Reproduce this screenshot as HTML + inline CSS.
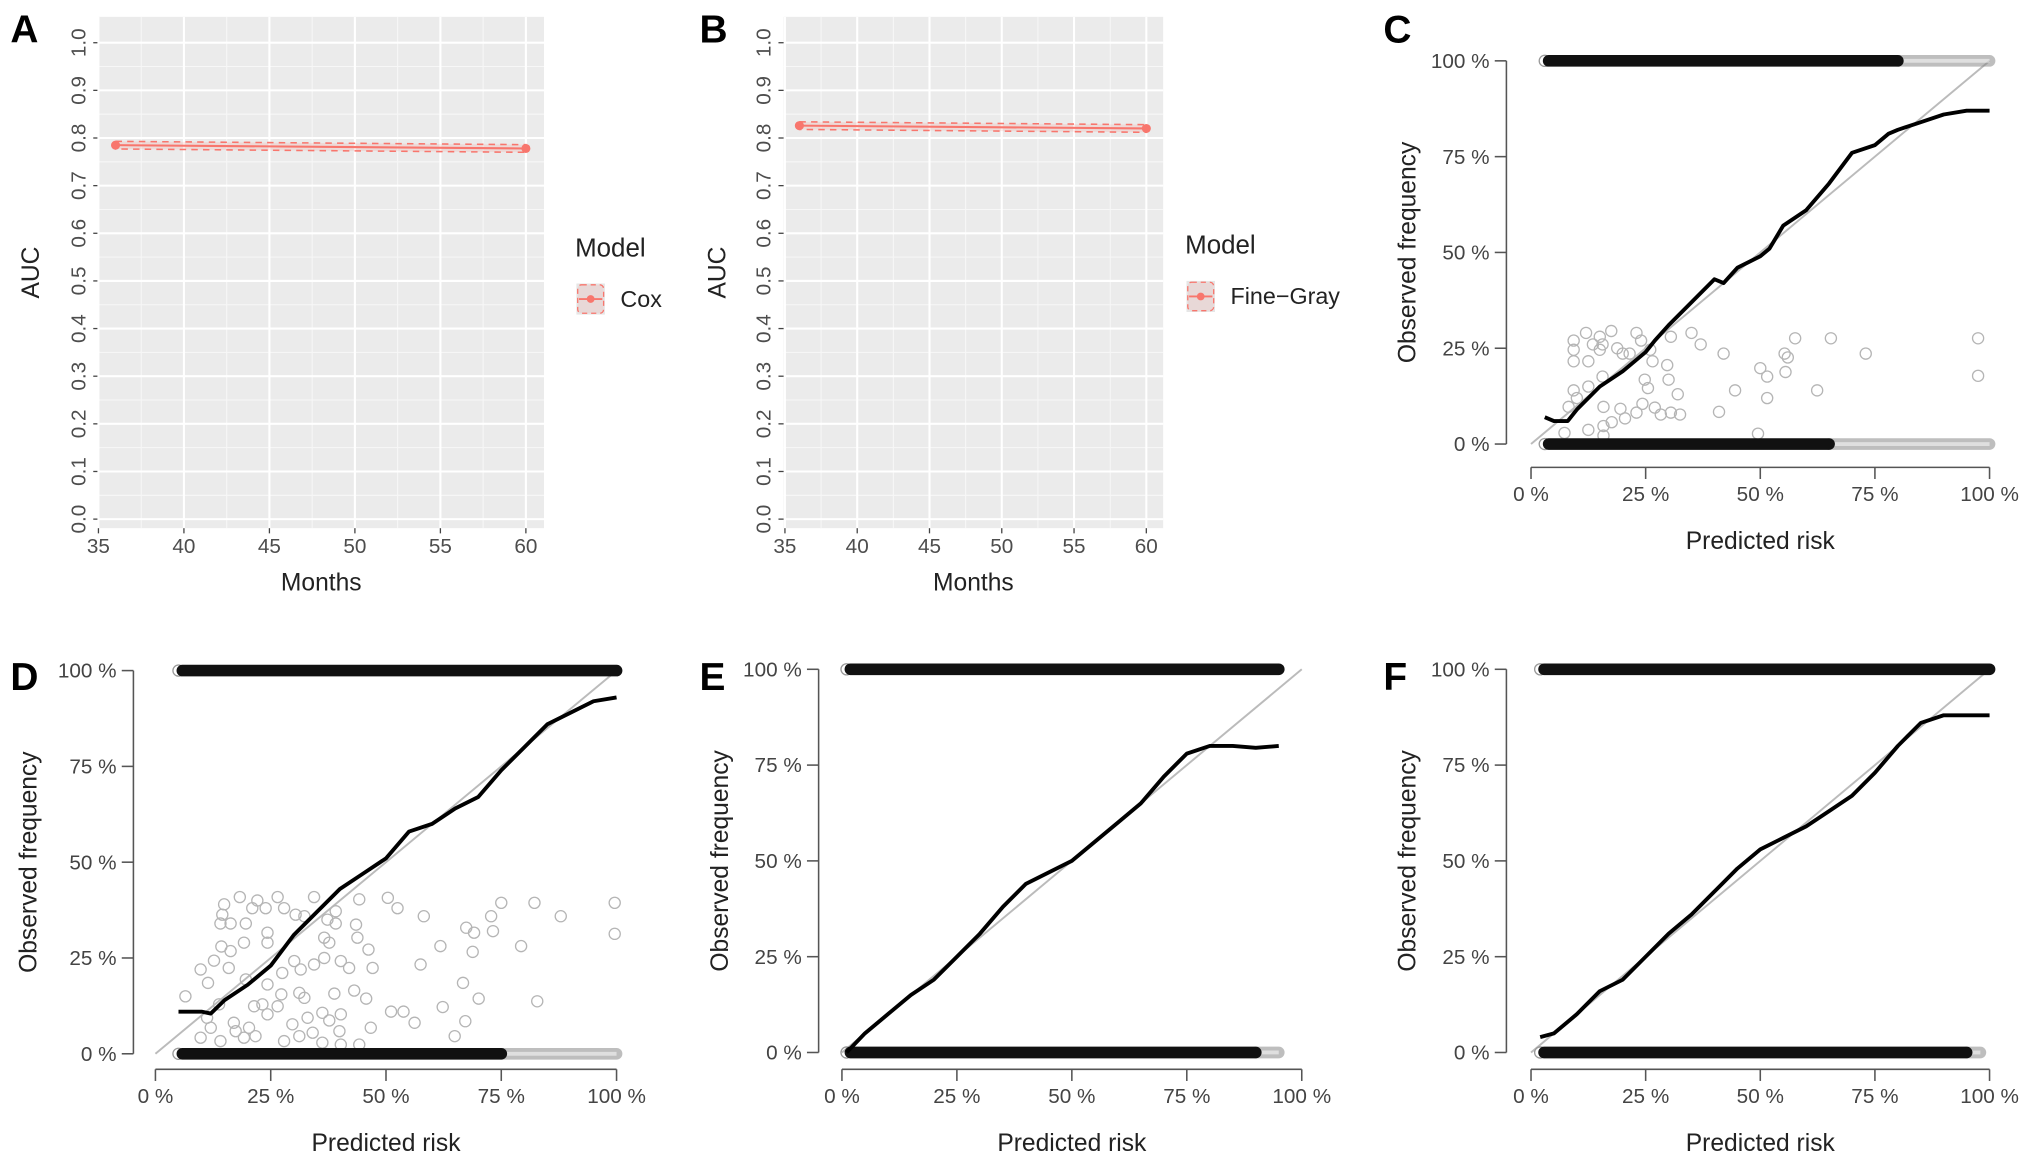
<!DOCTYPE html>
<html><head><meta charset="utf-8"><style>
html,body{margin:0;padding:0;background:#fff;}
svg{display:block;font-family:"Liberation Sans",Arial,sans-serif;}
</style></head><body>
<svg id="fig" width="2031" height="1169" viewBox="0 0 1568 903" preserveAspectRatio="none" xmlns="http://www.w3.org/2000/svg">
</svg>
<script>
// ---------- data ----------
const aucMonths = [36, 60];
const aucCox = [0.785, 0.778];
const aucFG = [0.826, 0.820];
const aucCI = 0.008;
const aucYTicks = [0,0.1,0.2,0.3,0.4,0.5,0.6,0.7,0.8,0.9,1.0];
const aucXTicks = [35,40,45,50,55,60];
const pctTicks = [0,25,50,75,100];
const pctLabels = ["0 %","25 %","50 %","75 %","100 %"];

const calC_x = [3,5,8,10,15,20,25,27,30,35,40,42,45,50,52,55,60,65,70,75,78,80,85,90,95,100];
const calC_y = [7,6,6,9,15,19,24,27,31,37,43,42,46,49,51,57,61,68,76,78,81,82,84,86,87,87];
const calD_x = [5,10,12,15,20,25,30,35,40,45,50,55,60,65,70,75,80,85,90,95,100];
const calD_y = [11,11,10.5,14,18,23,31,37,43,47,51,58,60,64,67,74,80,86,89,92,93];
const calE_x = [1,5,10,15,20,25,30,35,40,45,50,55,60,65,70,75,80,85,90,95];
const calE_y = [0,5,10,15,19,25,31,38,44,47,50,55,60,65,72,78,80,80,79.5,80];
const calF_x = [2,5,10,15,20,25,30,35,40,45,50,55,60,65,70,75,80,85,90,95,100];
const calF_y = [4,5,10,16,19,25,31,36,42,48,53,56,59,63,67,73,80,86,88,88,88];

const scatC_x = [9.3,12,15,17.5,23,30.5,35,37,42,9.3,9.3,12.5,13.5,15.6,15,18.8,20,21.5,24,26,26.5,29.7,30,24.8,25.5,32,15.6,12.5,9.3,10,8.2,15.8,19.5,24.3,27,30.5,32.5,28.3,20.5,23,17.6,12.5,15.8,7.3,15.8,41,44.5,50,51.5,51.5,49.5,55.5,55.3,56,57.6,62.4,65.4,73,97.5,97.5];
const scatC_y = [27,29,28,29.5,29,28,29,26,23.6,24.6,21.6,21.6,26,26,24.6,25,23.6,23.6,27,24.6,21.6,20.6,16.8,16.8,14.6,13,17.6,15,14,12,9.7,9.7,9.2,10.5,9.5,8.2,7.7,7.7,6.7,8.2,5.7,3.7,2.2,2.9,4.7,8.4,14,19.8,17.6,12,2.7,18.8,23.6,22.6,27.6,14,27.6,23.6,27.6,17.8];
const scatD_x = [6.5,9.8,11.4,12.7,14.3,14.9,14.5,14.1,16.3,18.3,19.6,19.2,15.9,16.3,22.1,21,23.9,24.3,24.3,26.5,27.9,30.4,34.4,32.3,37.3,39.1,39.1,36.6,37.7,44.2,43.5,43.8,46.2,50.4,52.5,58.2,57.5,61.8,67.4,69.1,68.8,72.8,73.2,75,79.3,82.2,87.9,99.6,99.6,66.7,70.1,82.8,62.3,67.2,64.9,56.2,51.1,53.8,46.7,45.7,43.1,38.8,40.2,37.7,36.2,39.9,34.1,33,31.2,32.3,30.1,31.5,27.5,27.3,26.5,24.3,24.3,23.2,21.4,19.6,17,20.3,21.7,19.2,17.4,12,9.8,14.1,27.9,29.7,31.2,36.2,40.2,44.2,34.4,40.2,42,47.1,36.6,13.8,11.2];
const scatD_y = [15,22,18.5,24.3,28,39,36.3,34,34,40.9,34,29,22.4,26.8,40,38,38,31.6,29,40.9,38,36.3,40.9,35.9,35,37.2,34,30.3,29,40.3,33.7,30.3,27.2,40.7,38,35.9,23.3,28.1,32.9,31.6,26.6,35.9,32,39.4,28.1,39.4,35.9,39.4,31.3,18.5,14.4,13.7,12.2,8.5,4.6,8.1,11,11,6.8,14.4,16.5,15.7,10.3,8.7,10.7,5.9,5.5,9.4,15.9,14.6,24.2,22,21.1,15.5,12.4,10.3,18.1,12.9,12.4,19.4,8.1,6.8,4.6,4.2,5.9,6.8,4.2,3.3,3.3,7.7,4.6,2.9,2.4,2.4,23.3,24.2,22.4,22.4,25,12.9,9.4];

// rug bands: [start, darkEnd, end] in % predicted risk
const bandC_top = [3,80,100], bandC_bot = [3,65,100];
const bandD_top = [5,100,100], bandD_bot = [5,75,100];
const bandE_top = [1,95,95], bandE_bot = [1,90,95];
const bandF_top = [2,100,100], bandF_bot = [2,95,98];

// ---------- helpers ----------
const svg = document.getElementById('fig');
const NS = 'http://www.w3.org/2000/svg';
function mk(tag, attrs, parent){
  const e = document.createElementNS(NS, tag);
  for (const k in attrs) e.setAttribute(k, attrs[k]);
  (parent||svg).appendChild(e); return e;
}
function txt(x,y,s,size,extra,parent){
  const t = mk('text', Object.assign({x:x,y:y,'font-size':size,fill:'#333'}, extra||{}), parent);
  t.textContent = s; return t;
}

// ---------- AUC panels ----------
function aucPanel(cfg){
  const g = mk('g',{});
  
  
  const {L,R,T,B,x0,x1,px0,px1,py0,py1} = cfg;
  const sx = v => px0 + (v-x0)/(x1-x0)*(px1-px0);
  const sy = v => py0 + (v-0)/(1-0)*(py1-py0);
  const bg = mk('rect',{x:L,y:T,width:R-L,height:B-T,fill:'#ebebeb'},g);
  
  
  for (let i=0;i<aucYTicks.length-1;i++){
    const v=(aucYTicks[i]+aucYTicks[i+1])/2;
    mk('line',{x1:L,x2:R,y1:sy(v),y2:sy(v),stroke:'#f7f7f7','stroke-width':0.8},g);
  }
  for (let i=0;i<aucXTicks.length-1;i++){
    const v=(aucXTicks[i]+aucXTicks[i+1])/2;
    mk('line',{x1:sx(v),x2:sx(v),y1:T,y2:B,stroke:'#f7f7f7','stroke-width':0.8},g);
  }
  aucYTicks.forEach(v=>{
    mk('line',{x1:L,x2:R,y1:sy(v),y2:sy(v),stroke:'#fff','stroke-width':1.6},g);
    mk('line',{x1:L-4,x2:L,y1:sy(v),y2:sy(v),stroke:'#444','stroke-width':1},g);
    const t = txt(L-10, sy(v), v.toFixed(1), 16, {'text-anchor':'middle',transform:`rotate(-90 ${L-10} ${sy(v)})`,fill:'#4d4d4d'}, g);
    
    
  });
  aucXTicks.forEach(v=>{
    mk('line',{x1:sx(v),x2:sx(v),y1:T,y2:B,stroke:'#fff','stroke-width':1.6},g);
    mk('line',{x1:sx(v),x2:sx(v),y1:B,y2:B+4,stroke:'#444','stroke-width':1},g);
    const t = txt(sx(v), B+19, String(v), 16, {'text-anchor':'middle',fill:'#4d4d4d'}, g);
    
    
  });
  const vals = cfg.vals;
  const ribbon = mk('polygon',{points:`${sx(aucMonths[0])},${sy(vals[0]+aucCI)} ${sx(aucMonths[1])},${sy(vals[1]+aucCI)} ${sx(aucMonths[1])},${sy(vals[1]-aucCI)} ${sx(aucMonths[0])},${sy(vals[0]-aucCI)}`,fill:'#f8766d','fill-opacity':0.15,stroke:'#f8766d','stroke-width':1.2,'stroke-dasharray':'5,4'},g);
  
  
  const ln = mk('line',{x1:sx(aucMonths[0]),y1:sy(vals[0]),x2:sx(aucMonths[1]),y2:sy(vals[1]),stroke:'#f8766d','stroke-width':1.6},g);
  
  
  aucMonths.forEach((m,i)=>{
    const c = mk('circle',{cx:sx(m),cy:sy(vals[i]),r:3.5,fill:'#f8766d'},g);
    
    
  });
  const yl = txt(cfg.ylx, (T+B)/2, 'AUC', 19, {'text-anchor':'middle',transform:`rotate(-90 ${cfg.ylx} ${(T+B)/2})`,fill:'#222'}, g);
  
  
  const xl = txt((L+R)/2, B+48, 'Months', 19, {'text-anchor':'middle',fill:'#222'}, g);
  
  
  const lg = mk('g',{},g);
  
  
  txt(cfg.legX, cfg.legY, 'Model', 20, {fill:'#222'}, lg);
  const kx = cfg.legX+1, ky = cfg.legY+21;
  mk('rect',{x:kx,y:ky,width:22,height:24,fill:'#e6e6e6'},lg);
  mk('rect',{x:kx+1,y:ky+1,width:20,height:22,fill:'#f8766d','fill-opacity':0.12,stroke:'#f8766d','stroke-width':1,'stroke-dasharray':'4,3',rx:3},lg);
  mk('line',{x1:kx+2,x2:kx+20,y1:ky+12,y2:ky+12,stroke:'#f8766d','stroke-width':1.4},lg);
  mk('circle',{cx:kx+11,cy:ky+12,r:3,fill:'#f8766d'},lg);
  const le = txt(kx+34, ky+18, cfg.label, 18, {fill:'#222'}, lg);
  
  
  const pl = txt(cfg.letX, 33, cfg.letter, 30, {'font-weight':'bold',fill:'#000'});
  
  
}
aucPanel({name:'panel-a-cox-auc',L:76,R:420,T:13,B:408,x0:35,x1:60,px0:76,px1:406,py0:401,py1:33,vals:aucCox,ylx:30,legX:444,legY:198,label:'Cox',letter:'A',letX:8});
aucPanel({name:'panel-b-finegray-auc',L:605,R:898,T:13,B:408,x0:35,x1:60,px0:606,px1:885,py0:401,py1:33,vals:aucFG,ylx:560,legX:915,legY:196,label:'Fine\u2212Gray',letter:'B',letX:540});

// ---------- calibration panels ----------
function calPanel(cfg){
  const g = mk('g',{});
  
  
  const sx = v => cfg.x0 + v/100*(cfg.x1-cfg.x0);
  const sy = v => cfg.y0 + v/100*(cfg.y1-cfg.y0);
  const ya = mk('line',{x1:cfg.ax,x2:cfg.ax,y1:sy(0),y2:sy(100),stroke:'#555','stroke-width':1.2},g);
  
  
  const xa = mk('line',{x1:sx(0),x2:sx(100),y1:cfg.ay,y2:cfg.ay,stroke:'#555','stroke-width':1.2},g);
  
  
  pctTicks.forEach((v,i)=>{
    mk('line',{x1:cfg.ax-9,x2:cfg.ax,y1:sy(v),y2:sy(v),stroke:'#555','stroke-width':1.2},g);
    const t = txt(cfg.ax-13, sy(v)+5.5, pctLabels[i], 16, {'text-anchor':'end',fill:'#444'}, g);
    
    
    mk('line',{x1:sx(v),x2:sx(v),y1:cfg.ay,y2:cfg.ay+9,stroke:'#555','stroke-width':1.2},g);
    const t2 = txt(sx(v), cfg.ay+26, pctLabels[i], 16, {'text-anchor':'middle',fill:'#444'}, g);
    
    
  });
  const yl = txt(cfg.ylx, (sy(0)+sy(100))/2, 'Observed frequency', 19, {'text-anchor':'middle',transform:`rotate(-90 ${cfg.ylx} ${(sy(0)+sy(100))/2})`,fill:'#222'}, g);
  
  
  const xl = txt((sx(0)+sx(100))/2, cfg.ay+63, 'Predicted risk', 19, {'text-anchor':'middle',fill:'#222'}, g);
  
  
  const dg = mk('line',{x1:sx(0),y1:sy(0),x2:sx(100),y2:sy(100),stroke:'#bbb','stroke-width':1.5},g);
  
  
  if (cfg.sx){
    cfg.sx.forEach((xv,i)=>{
      const c = mk('circle',{cx:sx(xv),cy:sy(cfg.sy[i]),r:4.3,fill:'none',stroke:'#b5b5b5','stroke-width':1},g);
      
      
    });
  }
  [[cfg.top,100],[cfg.bot,0]].forEach(([b,yv])=>{
    const y = sy(yv);
    const bd = mk('g',{},g);
    
    
    mk('circle',{cx:sx(b[0]),cy:y,r:4.3,fill:'none',stroke:'#999','stroke-width':1},bd);
    if (b[2]>b[1]) {
      mk('line',{x1:sx(b[1]),x2:sx(b[2]),y1:y,y2:y,stroke:'#888','stroke-width':9,'stroke-linecap':'round','stroke-opacity':0.55},bd);
      mk('line',{x1:sx(b[1]),x2:sx(b[2]),y1:y,y2:y,stroke:'#fff','stroke-width':3,'stroke-opacity':0.5},bd);
    }
    mk('line',{x1:sx(b[0])+3,x2:sx(b[1]),y1:y,y2:y,stroke:'#111','stroke-width':9,'stroke-linecap':'round'},bd);
  });
  const pts = cfg.cx.map((xv,i)=>`${sx(xv)},${sy(cfg.cy[i])}`).join(' ');
  const cl = mk('polyline',{points:pts,fill:'none',stroke:'#000','stroke-width':3,'stroke-linejoin':'round'},g);
  
  
  const pl = txt(cfg.letX, cfg.letY, cfg.letter, 30, {'font-weight':'bold',fill:'#000'});
  
  
}
calPanel({name:'panel-c-calibration',ax:1163,ay:361,x0:1182,x1:1536,y0:343,y1:47,ylx:1093,cx:calC_x,cy:calC_y,sx:scatC_x,sy:scatC_y,top:bandC_top,bot:bandC_bot,letter:'C',letX:1068,letY:33});
calPanel({name:'panel-d-calibration',ax:103,ay:826,x0:120,x1:476,y0:814,y1:518,ylx:28,cx:calD_x,cy:calD_y,sx:scatD_x,sy:scatD_y,top:bandD_top,bot:bandD_bot,letter:'D',letX:8,letY:533});
calPanel({name:'panel-e-calibration',ax:632,ay:826,x0:650,x1:1005,y0:813,y1:517,ylx:562,cx:calE_x,cy:calE_y,top:bandE_top,bot:bandE_bot,letter:'E',letX:540,letY:533});
calPanel({name:'panel-f-calibration',ax:1163,ay:826,x0:1182,x1:1536,y0:813,y1:517,ylx:1093,cx:calF_x,cy:calF_y,top:bandF_top,bot:bandF_bot,letter:'F',letX:1068,letY:533});
</script>
</body></html>
